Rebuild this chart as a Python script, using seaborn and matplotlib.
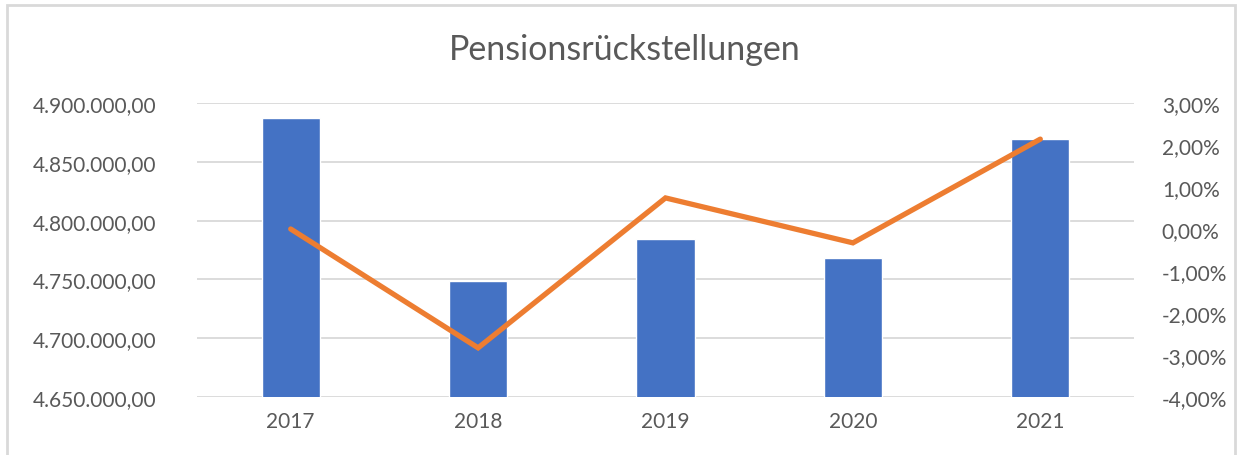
import matplotlib
matplotlib.use("Agg")
import matplotlib.pyplot as plt
import matplotlib.ticker as mticker
from matplotlib.patches import Rectangle
import seaborn as sns
import pandas as pd
import numpy as np

years = ["2017", "2018", "2019", "2020", "2021"]
provisions = [4887200, 4748700, 4784400, 4768200, 4869400]
change_pct = [0.00, -2.83, 0.74, -0.33, 2.14]

sns.set_theme(style="white")
plt.rcParams["font.family"] = ["Lato", "DejaVu Sans"]

TEXT = "#595959"
GRID = "#D9D9D9"
BAR = "#4472C4"
LINE = "#ED7D31"

fig = plt.figure(figsize=(12.39, 4.56), dpi=100)
ax = fig.add_axes([197/1239, 1-398/456, (1134-197)/1239, (398-104)/456])

df = pd.DataFrame({"year": years, "value": provisions, "pct": change_pct})
df["pos"] = np.arange(len(years))

sns.barplot(data=df, x="year", y="value", color=BAR, width=0.31, saturation=1,
            ax=ax, zorder=2)
ax.set_ylim(4650000, 4900000)
ax.yaxis.set_major_locator(mticker.MultipleLocator(50000))
ax.yaxis.set_major_formatter(mticker.FuncFormatter(
    lambda v, p: f"{v:,.2f}".replace(",", "X").replace(".", ",").replace("X", ".")))
ax.set_xlim(-0.5, 4.5)
ax.grid(axis="y", color=GRID, linewidth=1.3, zorder=0)
ax.set_axisbelow(True)
ax.set_xlabel("")
ax.set_ylabel("")
for s in ax.spines.values():
    s.set_visible(False)
ax.tick_params(axis="both", length=0, colors=TEXT, labelsize=15)
ax.tick_params(axis="x", pad=10)
ax.tick_params(axis="y", pad=29)

ax2 = ax.twinx()
sns.lineplot(data=df, x="pos", y="pct", color=LINE, linewidth=3.8, ax=ax2,
             solid_capstyle="round", solid_joinstyle="miter", zorder=3)
ax2.set_ylim(-4, 3)
ax2.yaxis.set_major_locator(mticker.MultipleLocator(1))
ax2.yaxis.set_major_formatter(mticker.FuncFormatter(
    lambda v, p: f"{v:.2f}%".replace(".", ",")))
ax2.set_xlim(-0.5, 4.5)
ax2.set_xlabel("")
ax2.set_ylabel("")
for s in ax2.spines.values():
    s.set_visible(False)
ax2.tick_params(axis="both", length=0, colors=TEXT, labelsize=15)
ax2.tick_params(axis="y", pad=20)
ax2.grid(False)

fig.text(625/1239, 1-50/456, "Pensionsrückstellungen", ha="center", va="center",
         fontsize=24.5, color=TEXT)

fig.patches.append(Rectangle((7/1239, -0.05), (1235-7)/1239, 1.05-6/456,
                             transform=fig.transFigure, fill=False,
                             edgecolor=GRID, linewidth=2))

fig.savefig("out.png", dpi=100)
